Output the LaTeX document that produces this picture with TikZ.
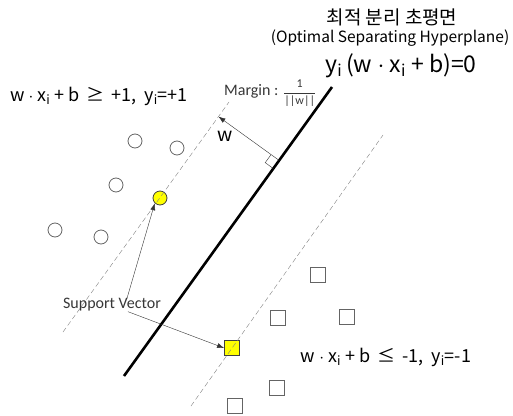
\documentclass[tikz,border=0pt]{standalone}
\usepackage{amsmath}
\usepackage{fontspec}
\setmainfont{Noto Sans CJK KR}
\newfontfamily\notefont{Carlito}
\usepackage{xcolor}
\usetikzlibrary{arrows.meta,positioning,calc}
\definecolor{svyellow}{RGB}{255,255,0}
\definecolor{ptgray}{RGB}{100,100,100}
\definecolor{notegray}{RGB}{55,55,55}
\newcommand{\idx}{\textsubscript{i}}

\begin{document}
\begin{tikzpicture}[
  x=1pt, y=-1pt,
  posdot/.style={circle, draw=ptgray, thick, minimum size=14pt, inner sep=0pt},
  negbox/.style={rectangle, draw=ptgray, thick, minimum size=15pt, inner sep=0pt},
  support/.style={fill=svyellow, draw=black!75},
  margin/.style={dash pattern=on 5pt off 3pt, gray, thin},
  formula/.style={font=\fontsize{18}{20}\selectfont, inner sep=0pt},
  note/.style={font=\notefont\fontsize{16}{18}\selectfont, text=notegray, inner sep=0pt},
  pointer/.style={-{Latex[length=7pt, width=5pt]}, black!80, thin}
]
  \useasboundingbox (0,0) rectangle (513,415);

  % Hyperplane and margins
  \coordinate (h1) at (124,376);
  \coordinate (h2) at (332,87);
  \coordinate (u1) at (63,332);
  \coordinate (u2) at (229,102);
  \coordinate (l1) at (191,406);
  \coordinate (l2) at (383,135);
  \draw[line width=2.6pt] (h1) -- (h2);

  % Class +1
  \foreach \n/\x/\y in {c1/135/141, c2/177/148, c3/116/185, c4/55/230, c5/101/237} {
    \node[posdot] (\n) at (\x,\y) {};
  }
  \node[posdot, support] (c6) at (160,198) {};

  % Class -1
  \foreach \n/\x/\y in {s1/318/275, s2/278/318, s3/347/317, s4/277/388, s5/235/406} {
    \node[negbox] (\n) at (\x,\y) {};
  }
  \node[negbox, support] (s6) at (232,348) {};

  \draw[margin] (u1) -- (u2);
  \draw[margin] (l1) -- (l2);

  % Normal vector w
  \coordinate (foot) at ($(h1)!0.746!(h2)$);
  \coordinate (wtip) at ($(u1)!(foot)!(u2)$);
  \draw[pointer] (foot) -- (wtip);
  \draw[black!80] ($(foot)!10pt!(wtip)$)
    -- ($(foot)!10pt!(wtip) + (foot)!10pt!(h1) - (foot)$)
    -- ($(foot)!10pt!(h1)$);
  \node[font=\fontsize{19}{21}\selectfont] (wlabel) at (225,136) {w};
  \node[note, font=\notefont\fontsize{16}{18}\selectfont, anchor=west] (mg) at (224,93)
    {Margin : {\fontsize{12}{13}\selectfont$\dfrac{\text{1}}{\text{||w||}}$}};

  % Titles
  \node[font=\fontsize{19}{21}\selectfont] (title) at (392,17) {최적 분리 초평면};
  \node[font=\fontsize{15.5}{18}\selectfont] (subtitle) at (390,38)
    {(Optimal Separating Hyperplane)};
  \node[font=\fontsize{23}{26}\selectfont] (eq0) at (401,66)
    {y\idx\,(w $\cdot$ x\idx\ + b)=0};

  % Inequalities
  \node[formula] (eqp) at (99,96) {w $\cdot$ x\idx\ + b\ \,≥\ \,+1,\ \ y\idx=+1};
  \node[formula] (eqn) at (386,357) {w $\cdot$ x\idx\ + b\ \,≤\ \,-1,\ \ y\idx=-1};

  % Support vectors
  \node[note] (sv) at (112,305) {Support Vector};
  \draw[pointer] ([xshift=15pt]sv.north) -- (c6.south west);
  \draw[pointer] ([xshift=16pt]sv.south) -- (s6.west);
\end{tikzpicture}
\end{document}
